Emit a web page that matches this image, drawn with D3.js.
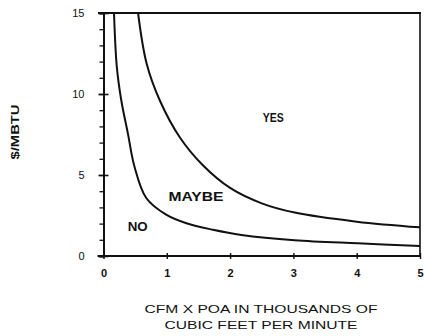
<!DOCTYPE html>
<html>
<head>
<meta charset="utf-8">
<script src="https://cdn.jsdelivr.net/npm/d3@7"></script>
<style>
  html, body { margin: 0; padding: 0; background: #fff; }
  svg { display: block; }
  text { font-family: "Liberation Sans", Arial, sans-serif; fill: #111; }
</style>
</head>
<body>
<svg id="chart" width="424" height="336"></svg>
<script>
// Axis ticks
const xTicks = [0, 1, 2, 3, 4, 5];
const yMajorTicks = [0, 5, 10, 15];
const yMinorTicks = d3.range(0, 16);

// Boundary between NO and MAYBE
const noMaybeX = [0.166, 0.21, 0.28, 0.385, 0.49, 0.675, 0.99, 1.31, 1.73, 2.18, 3.02, 4.02, 5.0];
const noMaybeY = [15.0, 11.69, 9.63, 7.57, 5.51, 3.58, 2.55, 2.02, 1.62, 1.3, 0.97, 0.78, 0.62];

// Boundary between MAYBE and YES
const maybeYesX = [0.546, 0.68, 0.89, 1.21, 1.57, 2.0, 2.5, 3.02, 4.0, 5.0];
const maybeYesY = [15.0, 11.9, 9.6, 7.3, 5.6, 4.2, 3.25, 2.68, 2.12, 1.77];

// Region labels
const regionNames = ["YES", "MAYBE", "NO"];
const regionX = [2.68, 1.46, 0.54];
const regionY = [8.3, 3.4, 1.54];

const svg = d3.select("#chart");
const x = d3.scaleLinear().domain([0, 5]).range([103.5, 420]);
const y = d3.scaleLinear().domain([0, 15]).range([256, 13]);
const ink = "#111";

// Frame: top and right edges
svg.append("line").attr("x1", 98).attr("x2", x(5) + 1).attr("y1", y(15)).attr("y2", y(15))
  .attr("stroke", ink).attr("stroke-width", 2);
svg.append("line").attr("x1", x(5)).attr("x2", x(5)).attr("y1", y(15)).attr("y2", y(0))
  .attr("stroke", ink).attr("stroke-width", 1.6);

// Y axis with minor ticks
const yAxis = svg.append("g").attr("transform", `translate(${x(0)},0)`);
yAxis.call(d3.axisLeft(y).tickValues(yMinorTicks).tickSize(4).tickFormat(""));
yAxis.selectAll(".tick line").attr("stroke", ink).attr("stroke-width", 1.3);
yAxis.select(".domain").attr("stroke", ink).attr("stroke-width", 2);
const yMajor = svg.append("g").attr("transform", `translate(${x(0)},0)`);
yMajor.call(d3.axisLeft(y).tickValues(yMajorTicks).tickSize(5).tickPadding(14).tickFormat(d3.format("d")));
yMajor.select(".domain").remove();
yMajor.selectAll(".tick line").attr("x2", 5).attr("x1", -5).attr("stroke", ink).attr("stroke-width", 1.6);
yMajor.selectAll(".tick text").style("font-size", "11px").attr("fill", ink);

// X axis
const xAxis = svg.append("g").attr("transform", `translate(0,${y(0)})`);
xAxis.call(d3.axisBottom(x).tickValues(xTicks).tickSize(3).tickPadding(10).tickFormat(d3.format("d")));
xAxis.select(".domain").attr("stroke", ink).attr("stroke-width", 2).attr("d", `M${x(0) - 6},0H${x(5)}`);
xAxis.selectAll(".tick line").attr("y1", -3).attr("stroke", ink).attr("stroke-width", 1.4);
xAxis.selectAll(".tick text").style("font-size", "11px").style("font-weight", "bold").attr("fill", ink);

// Boundary curves
const line = d3.line().x(d => x(d[0])).y(d => y(d[1])).curve(d3.curveCatmullRom.alpha(0.5));
svg.append("path").datum(d3.zip(noMaybeX, noMaybeY)).attr("d", line)
  .attr("fill", "none").attr("stroke", ink).attr("stroke-width", 2);
svg.append("path").datum(d3.zip(maybeYesX, maybeYesY)).attr("d", line)
  .attr("fill", "none").attr("stroke", ink).attr("stroke-width", 2);

// Region labels
const labelWidths = [21, 55, 20];
svg.selectAll("text.region").data(regionNames).join("text")
  .attr("class", "region")
  .attr("x", (d, i) => x(regionX[i]))
  .attr("y", (d, i) => y(regionY[i]))
  .attr("text-anchor", "middle")
  .attr("textLength", (d, i) => labelWidths[i])
  .attr("lengthAdjust", "spacingAndGlyphs")
  .style("font-size", "12.5px")
  .style("font-weight", "bold")
  .text(d => d);

// Axis titles
svg.append("text").attr("transform", "translate(19,132) rotate(-90)")
  .attr("text-anchor", "middle").attr("textLength", 55).attr("lengthAdjust", "spacingAndGlyphs")
  .style("font-size", "11px").style("font-weight", "bold").text("$/MBTU");
svg.append("text").attr("x", 261).attr("y", 313).attr("text-anchor", "middle")
  .attr("textLength", 233).attr("lengthAdjust", "spacingAndGlyphs")
  .style("font-size", "11px").text("CFM X POA IN THOUSANDS OF");
svg.append("text").attr("x", 261).attr("y", 329).attr("text-anchor", "middle")
  .attr("textLength", 193).attr("lengthAdjust", "spacingAndGlyphs")
  .style("font-size", "11px").text("CUBIC FEET PER MINUTE");
</script>
</body>
</html>
